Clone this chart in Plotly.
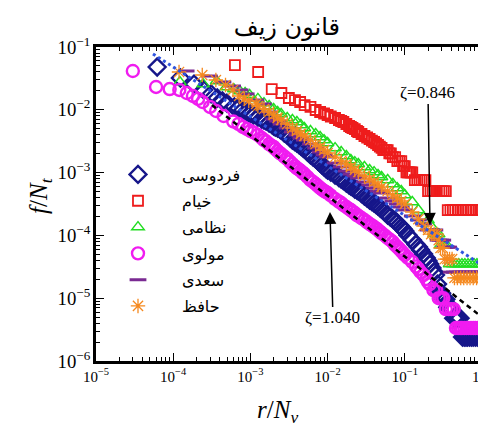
import math
import plotly.graph_objects as go

# ---------------- data ----------------
# x = r/N_v , y = f/N_t
ferdowsi_x = [6.2e-5, 1.24e-4, 1.86e-4, 2.48e-4, 3.1e-4, 3.72e-4, 4.34e-4, 4.96e-4, 6.2e-4,
              7e-4, 8e-4, 9e-4,
              1e-3, 1.1e-3, 1.25e-3, 1.4e-3, 1.5e-3, 1.6e-3, 1.75e-3, 1.9e-3, 2e-3, 2.1e-3,
              2.25e-3, 2.4e-3, 2.5e-3, 2.75e-3, 3e-3, 3.25e-3, 3.5e-3, 3.75e-3, 4e-3, 4.25e-3,
              4.5e-3, 4.75e-3, 5e-3, 5.5e-3, 6e-3, 6.5e-3, 7e-3, 7.5e-3, 8e-3, 8.5e-3, 9e-3, 9.5e-3,
              1e-2, 1.1e-2, 1.25e-2, 1.4e-2, 1.5e-2, 1.6e-2, 1.75e-2, 1.9e-2, 2e-2, 2.1e-2,
              2.25e-2, 2.4e-2, 2.5e-2, 2.75e-2, 3e-2, 3.25e-2, 3.5e-2, 3.75e-2, 4e-2, 4.25e-2,
              4.5e-2, 4.75e-2, 5e-2, 5.5e-2, 6e-2, 6.5e-2, 7e-2, 7.5e-2, 8e-2, 8.5e-2, 9e-2, 9.5e-2,
              0.1, 0.11, 0.125, 0.14, 0.15, 0.16, 0.175, 0.19, 0.2, 0.21, 0.225, 0.24, 0.25,
              0.265, 0.28, 0.30, 0.32, 0.34, 0.36, 0.39, 0.43, 0.46, 0.49, 0.52,
              0.56, 0.59, 0.62, 0.65, 0.69, 0.73, 0.77, 0.82, 0.87, 0.93, 1.0]
ferdowsi_y = [0.0480, 0.0321, 0.0257, 0.0207, 0.0179, 0.0154, 0.0138, 0.0128, 0.0111,
              0.0107, 9.93e-3, 9.22e-3,
              8.57e-3, 8.26e-3, 7.68e-3, 7.14e-3, 6.88e-3, 6.63e-3, 6.16e-3, 5.83e-3, 5.52e-3,
              5.32e-3, 5.13e-3, 4.94e-3, 4.77e-3, 4.27e-3, 3.97e-3, 3.62e-3, 3.30e-3, 3.13e-3,
              2.96e-3, 2.80e-3, 2.65e-3, 2.51e-3, 2.38e-3, 2.13e-3, 1.91e-3, 1.77e-3, 1.65e-3,
              1.53e-3, 1.42e-3, 1.32e-3, 1.23e-3, 1.16e-3,
              1.10e-3, 1.02e-3, 9.16e-4, 8.35e-4, 7.91e-4, 7.48e-4, 6.83e-4, 6.35e-4, 6.12e-4,
              5.90e-4, 5.48e-4, 5.28e-4, 5.09e-4, 4.65e-4, 4.24e-4, 3.94e-4, 3.66e-4, 3.46e-4,
              3.28e-4, 3.10e-4, 2.94e-4, 2.78e-4, 2.63e-4, 2.36e-4, 2.11e-4, 1.96e-4, 1.82e-4,
              1.70e-4, 1.58e-4, 1.46e-4, 1.36e-4, 1.26e-4,
              1.17e-4, 1.01e-4, 8.45e-5, 7.16e-5, 6.53e-5, 5.85e-5, 5.06e-5, 4.37e-5, 3.91e-5,
              3.50e-5, 3.03e-5, 2.61e-5, 2.34e-5,
              1.68e-5, 1.2e-5, 1.2e-5, 9.6e-6, 9.6e-6, 7.2e-6, 7.2e-6, 4.8e-6, 4.8e-6, 4.8e-6, 4.8e-6,
              2.4e-6, 2.4e-6, 2.4e-6, 2.4e-6, 2.4e-6, 2.4e-6, 2.4e-6, 2.4e-6, 2.4e-6, 2.4e-6, 2.4e-6]

khayyam_x = [6.3e-4, 1.26e-3, 1.89e-3, 2.52e-3, 3.15e-3, 3.78e-3, 4.41e-3, 5.04e-3,
             6e-3, 7e-3, 8e-3, 9e-3,
             1e-2, 1.1e-2, 1.25e-2, 1.4e-2, 1.5e-2, 1.6e-2, 1.75e-2, 1.9e-2, 2e-2, 2.1e-2,
             2.25e-2, 2.4e-2, 2.5e-2, 2.75e-2, 3e-2, 3.25e-2, 3.5e-2, 3.75e-2, 4e-2, 4.25e-2,
             4.5e-2, 4.75e-2, 5e-2,
             5.25e-2, 5.5e-2, 5.75e-2, 6e-2, 6.3e-2, 6.6e-2, 7e-2, 7.5e-2, 8e-2, 8.5e-2, 9e-2,
             0.095, 0.1, 0.105, 0.11, 0.115, 0.12, 0.125,
             0.135, 0.145, 0.155, 0.165, 0.175, 0.185,
             0.2, 0.215, 0.23, 0.245, 0.26, 0.28, 0.3, 0.32, 0.34,
             0.36, 0.39, 0.42, 0.45, 0.49, 0.53, 0.57, 0.62, 0.67, 0.72, 0.78, 0.84, 0.9, 0.95, 1.0]
khayyam_y = [0.0516, 0.0400, 0.0214, 0.0185, 0.0154, 0.0143, 0.0133, 0.0119,
             0.0111, 9.93e-3, 9.22e-3, 8.73e-3,
             8.26e-3, 7.82e-3, 7.40e-3, 6.88e-3, 6.63e-3, 6.39e-3, 5.94e-3, 5.52e-3, 5.32e-3,
             5.13e-3, 4.94e-3, 4.60e-3, 4.43e-3, 4.12e-3, 3.83e-3, 3.62e-3, 3.43e-3, 3.24e-3,
             3.07e-3, 2.91e-3, 2.75e-3, 2.60e-3, 2.47e-3,
             2.28e-3, 2.28e-3, 2.28e-3, 2.28e-3, 2.03e-3, 2.03e-3, 1.77e-3, 1.77e-3, 1.52e-3,
             1.52e-3, 1.52e-3,
             1.27e-3, 1.27e-3, 1.01e-3, 1.01e-3, 1.01e-3, 1.01e-3, 1.01e-3,
             7.6e-4, 7.6e-4, 7.6e-4, 7.6e-4, 7.6e-4, 7.6e-4,
             5.06e-4, 5.06e-4, 5.06e-4, 5.06e-4, 5.06e-4, 5.06e-4, 5.06e-4, 5.06e-4, 5.06e-4,
             2.53e-4, 2.53e-4, 2.53e-4, 2.53e-4, 2.53e-4, 2.53e-4, 2.53e-4, 2.53e-4, 2.53e-4,
             2.53e-4, 2.53e-4, 2.53e-4, 2.53e-4, 2.53e-4, 2.53e-4]

nezami_x = [1.22e-4, 2.44e-4, 3.66e-4, 4.88e-4, 6.1e-4, 7.32e-4, 8.54e-4, 9.76e-4,
            1.25e-3, 1.5e-3, 1.75e-3, 2e-3, 2.25e-3, 2.5e-3, 3e-3, 3.5e-3, 4e-3, 4.5e-3,
            5e-3, 6e-3, 7e-3, 8e-3, 9e-3,
            1e-2, 1.25e-2, 1.5e-2, 1.75e-2, 2e-2, 2.25e-2, 2.5e-2, 3e-2, 3.5e-2, 4e-2, 4.5e-2,
            5e-2, 6e-2, 7e-2, 8e-2, 9e-2,
            0.1, 0.125, 0.15, 0.175, 0.2, 0.22, 0.24, 0.26, 0.275, 0.29, 0.31, 0.33, 0.35,
            0.38, 0.42, 0.46, 0.5, 0.55, 0.6, 0.66, 0.72, 0.79, 0.86, 0.93, 1.0]
nezami_y = [0.0277, 0.0257, 0.0287, 0.0231, 0.0214, 0.0199, 0.0185, 0.0172,
            0.0149, 0.0128, 0.0115, 0.0103, 9.22e-3, 8.57e-3, 7.40e-3, 6.88e-3, 6.39e-3, 5.73e-3,
            5.13e-3, 4.60e-3, 4.12e-3, 3.69e-3, 3.30e-3,
            2.96e-3, 2.46e-3, 2.13e-3, 1.84e-3, 1.59e-3, 1.47e-3, 1.37e-3, 1.23e-3, 1.10e-3,
            1.02e-3, 9.16e-4,
            8.51e-4, 7.62e-4, 6.58e-4, 5.68e-4, 5.09e-4,
            4.40e-4, 3.40e-4, 2.54e-4, 1.96e-4, 1.75e-4, 1.4e-4, 1.05e-4, 1.05e-4, 1.05e-4,
            7.0e-5, 7.0e-5, 7.0e-5, 7.0e-5,
            3.5e-5, 3.5e-5, 3.5e-5, 3.5e-5, 3.5e-5, 3.5e-5, 3.5e-5, 3.5e-5, 3.5e-5, 3.5e-5,
            3.5e-5, 3.5e-5]

molavi_x = [3.0e-5, 6.0e-5, 9.0e-5, 1.2e-4, 1.5e-4, 1.8e-4, 2.1e-4, 2.4e-4, 3.0e-4, 3.6e-4, 4.5e-4,
            6e-4, 7e-4, 8e-4, 9e-4,
            1e-3, 1.1e-3, 1.25e-3, 1.4e-3, 1.5e-3, 1.6e-3, 1.75e-3, 1.9e-3, 2e-3, 2.1e-3,
            2.25e-3, 2.4e-3, 2.5e-3, 2.75e-3, 3e-3, 3.25e-3, 3.5e-3, 3.75e-3, 4e-3, 4.25e-3,
            4.5e-3, 4.75e-3, 5e-3, 5.5e-3, 6e-3, 6.5e-3, 7e-3, 7.5e-3, 8e-3, 8.5e-3, 9e-3, 9.5e-3,
            1e-2, 1.1e-2, 1.25e-2, 1.4e-2, 1.5e-2, 1.6e-2, 1.75e-2, 1.9e-2, 2e-2, 2.1e-2,
            2.25e-2, 2.4e-2, 2.5e-2, 2.75e-2, 3e-2, 3.25e-2, 3.5e-2, 3.75e-2, 4e-2, 4.25e-2,
            4.5e-2, 4.75e-2, 5e-2, 5.5e-2, 6e-2, 6.5e-2, 7e-2, 7.5e-2, 8e-2, 8.5e-2, 9e-2, 9.5e-2,
            0.1, 0.11, 0.125, 0.14, 0.15, 0.16, 0.175, 0.19, 0.2,
            0.21, 0.235, 0.255, 0.275, 0.295, 0.315, 0.34, 0.37, 0.40, 0.43,
            0.46, 0.49, 0.52, 0.55, 0.59, 0.63, 0.67, 0.72, 0.77, 0.82, 0.88, 0.94, 1.0]
molavi_y = [0.0415, 0.0231, 0.0214, 0.0207, 0.0185, 0.0166, 0.0149, 0.0133, 0.0111, 0.00957, 0.00796,
            6.52e-3, 5.94e-3, 5.32e-3, 4.94e-3,
            4.60e-3, 4.35e-3, 3.97e-3, 3.56e-3, 3.30e-3, 3.13e-3, 2.85e-3, 2.65e-3, 2.56e-3,
            2.38e-3, 2.21e-3, 2.05e-3, 1.98e-3, 1.80e-3, 1.65e-3, 1.50e-3, 1.37e-3, 1.27e-3,
            1.18e-3, 1.12e-3, 1.06e-3, 1.00e-3, 9.5e-4, 8.51e-4, 7.62e-4, 7.09e-4, 6.58e-4,
            6.12e-4, 5.68e-4, 5.38e-4, 5.09e-4, 4.91e-4,
            4.73e-4, 4.32e-4, 3.80e-4, 3.46e-4, 3.28e-4, 3.05e-4, 2.83e-4, 2.63e-4, 2.54e-4,
            2.40e-4, 2.27e-4, 2.11e-4, 2.04e-4, 1.89e-4, 1.76e-4, 1.63e-4, 1.52e-4, 1.44e-4,
            1.36e-4, 1.29e-4, 1.22e-4, 1.15e-4, 1.09e-4, 9.96e-5, 9.09e-5, 8.45e-5, 7.85e-5,
            7.03e-5, 6.53e-5, 6.07e-5, 5.64e-5, 5.24e-5,
            4.88e-5, 4.37e-5, 3.77e-5, 3.20e-5, 2.92e-5, 2.61e-5, 2.34e-5, 2.02e-5, 1.81e-5,
            1.68e-5, 1.34e-5, 1.34e-5, 1.0e-5, 1.0e-5, 1.0e-5, 6.7e-6, 6.7e-6, 6.7e-6, 6.7e-6,
            3.35e-6, 3.35e-6, 3.35e-6, 3.35e-6, 3.35e-6, 3.35e-6, 3.35e-6, 3.35e-6, 3.35e-6,
            3.35e-6, 3.35e-6, 3.35e-6, 3.35e-6]

saadi_x = [1.47e-4, 2.94e-4, 4.41e-4, 5.88e-4, 7.35e-4, 8.82e-4, 1.18e-3, 1.47e-3,
           1.75e-3, 2e-3, 2.25e-3, 2.5e-3, 3e-3, 3.5e-3, 4e-3, 4.5e-3, 5e-3, 6e-3, 7e-3, 8e-3,
           9e-3, 1e-2, 1.25e-2, 1.5e-2, 1.75e-2, 2e-2, 2.25e-2, 2.5e-2, 3e-2, 3.5e-2, 4e-2,
           4.5e-2, 5e-2, 6e-2, 7e-2, 8e-2, 9e-2, 0.1, 0.125, 0.15, 0.175,
           0.2, 0.22, 0.245, 0.27, 0.29, 0.31, 0.33, 0.35, 0.37,
           0.40, 0.44, 0.48, 0.53, 0.58, 0.64, 0.7, 0.77, 0.85, 0.92, 1.0]
saadi_y = [0.0415, 0.0345, 0.0277, 0.0239, 0.0207, 0.0179, 0.0143, 0.0124,
           9.22e-3, 7.14e-3, 6.63e-3, 5.94e-3, 5.13e-3, 4.43e-3, 3.97e-3, 3.56e-3, 3.30e-3,
           2.85e-3, 2.46e-3, 2.13e-3,
           1.91e-3, 1.77e-3, 1.42e-3, 1.23e-3, 1.06e-3, 9.5e-4, 8.83e-4, 8.2e-4, 7.09e-4,
           6.35e-4, 5.68e-4,
           5.09e-4, 4.73e-4, 3.94e-4, 3.53e-4, 3.16e-4, 2.83e-4, 2.54e-4, 2.04e-4, 1.76e-4,
           1.52e-4,
           1.22e-4, 1.22e-4, 1.22e-4, 8.4e-5, 8.4e-5, 8.4e-5, 6.5e-5, 6.5e-5, 6.5e-5,
           2.6e-5, 2.6e-5, 2.6e-5, 2.6e-5, 2.6e-5, 2.6e-5, 2.6e-5, 2.6e-5, 2.6e-5, 2.6e-5, 2.6e-5]

hafez_x = [1.19e-4, 2.38e-4, 3.57e-4, 4.76e-4, 5.95e-4, 7.14e-4, 8.33e-4, 9.52e-4, 1.19e-3,
           1.25e-3, 1.5e-3, 1.75e-3, 2e-3, 2.25e-3, 2.5e-3, 3e-3, 3.5e-3, 4e-3, 4.5e-3,
           5e-3, 6e-3, 7e-3, 8e-3, 9e-3,
           1e-2, 1.25e-2, 1.5e-2, 1.75e-2, 2e-2, 2.25e-2, 2.5e-2, 3e-2, 3.5e-2, 4e-2,
           4.5e-2, 5e-2, 6e-2, 7e-2, 8e-2, 9e-2, 0.1, 0.125, 0.15, 0.175, 0.2,
           0.22, 0.24, 0.26, 0.275, 0.29, 0.31, 0.33, 0.355, 0.38, 0.41,
           0.44, 0.48, 0.53, 0.58, 0.64, 0.7, 0.77, 0.85, 0.92, 1.0]
hafez_y = [0.0400, 0.0358, 0.0298, 0.0248, 0.0207, 0.0166, 0.0149, 0.0138, 0.0124,
           0.0115, 0.0103, 9.22e-3, 8.26e-3, 7.40e-3, 6.88e-3, 5.94e-3, 5.13e-3, 4.60e-3,
           4.12e-3, 3.83e-3, 3.30e-3, 2.85e-3, 2.56e-3, 2.29e-3,
           2.05e-3, 1.77e-3, 1.53e-3, 1.37e-3, 1.23e-3, 1.10e-3, 1.02e-3, 8.83e-4, 7.91e-4,
           7.09e-4, 6.35e-4, 5.90e-4, 5.09e-4, 4.40e-4, 3.94e-4, 3.53e-4, 3.16e-4, 2.36e-4,
           1.82e-4, 1.41e-4, 1.22e-4,
           1.05e-4, 1.05e-4, 1.05e-4, 8.4e-5, 6.3e-5, 6.3e-5, 4.2e-5, 4.2e-5, 4.2e-5, 4.2e-5,
           2.1e-5, 2.1e-5, 2.1e-5, 2.1e-5, 2.1e-5, 2.1e-5, 2.1e-5, 2.1e-5, 2.1e-5, 2.1e-5]

# fitted power laws (end points)
fit0846_x = [5.47e-5, 1.0]
fit0846_y = [0.0774, 3.38e-5]
fit1040_x = [3.18e-4, 0.887]
fit1040_y = [0.0119, 5.6e-6]

# annotation arrow tips
zeta0846_tip = (0.212, 1.47e-4)
zeta1040_tip = (0.01074, 2.36e-4)

names = ["فردوسی", "خیام", "نظامی", "مولوی", "سعدی", "حافظ"]

# x tick labels (the last one sits on the clipped right edge)
x_tickvals = [1e-5, 1e-4, 1e-3, 1e-2, 1e-1]
x_ticktext = ["10<sup>−5</sup>", "10<sup>−4</sup>", "10<sup>−3</sup>", "10<sup>−2</sup>",
              "10<sup>−1</sup>"]
x_last_tick = (1.0, "10<sup>0</sup>")

# ---------------- figure ----------------
# (x, y, name, symbol, colour, size, line width)
series = [
    (ferdowsi_x, ferdowsi_y, names[0], "diamond-open", "#16168a", 13, 2.4),
    (khayyam_x, khayyam_y, names[1], "square-open", "#ee1c1c", 10, 1.8),
    (nezami_x, nezami_y, names[2], "triangle-up-open", "#22dd22", 11, 1.4),
    (molavi_x, molavi_y, names[3], "circle-open", "#f01cf0", 12, 2.4),
    (saadi_x, saadi_y, names[4], "line-ew-open", "#7a2a92", 12, 3),
    (hafez_x, hafez_y, names[5], "asterisk-open", "#f5891f", 12, 1.3),
]

fig = go.Figure()
for i, (xs, ys, nm, sym, col, sz, lw) in enumerate(series):
    fig.add_trace(go.Scatter(
        x=xs, y=ys, mode="markers", name=nm, legendgroup=str(i),
        marker=dict(symbol=sym, size=sz, color=col, line=dict(color=col, width=lw)),
    ))

fig.add_trace(go.Scatter(x=fit0846_x, y=fit0846_y, mode="lines", showlegend=False,
                         line=dict(color="#2f55e0", width=3, dash="dot")))
fig.add_trace(go.Scatter(x=fit1040_x, y=fit1040_y, mode="lines", showlegend=False,
                         line=dict(color="black", width=2.5, dash="5px,4px")))

serif = "Liberation Serif, Times New Roman, serif"
axis_common = dict(
    type="log", automargin=False, showline=True, linewidth=2.5, linecolor="black",
    mirror="allticks", ticks="inside", ticklen=8, tickwidth=1, tickcolor="black",
    showgrid=False, zeroline=False,
    ticklabeloverflow="allow",
    tickfont=dict(family=serif, size=15, color="black"),
    minor=dict(ticks="inside", ticklen=4, tickwidth=1, tickcolor="black", dtick="D1",
               showgrid=False),
)

fig.update_layout(
    width=486, height=427,
    margin=dict(l=88, r=12, t=39, b=74),
    paper_bgcolor="white", plot_bgcolor="white",
    title=dict(text="قانون زیف", x=0.574, xanchor="center", y=0.956, yanchor="middle",
               font=dict(family="DejaVu Sans", size=24, color="black")),
    xaxis=dict(range=[-5, 0], tickmode="array", tickvals=x_tickvals, ticktext=x_ticktext,
               **axis_common),
    yaxis=dict(range=[-6, -1], dtick=1, exponentformat="power", **axis_common),
    legend=dict(x=-0.0052, y=0.648, xanchor="left", yanchor="top",
                bgcolor="rgba(0,0,0,0)", borderwidth=0, tracegroupgap=2.5,
                font=dict(family="DejaVu Sans", size=16, color="black"),
                itemwidth=78),
    showlegend=True,
)

# label of the last x tick, on the clipped right edge
fig.add_annotation(xref="x", yref="paper", x=math.log10(x_last_tick[0]), y=-0.0115,
                   text=x_last_tick[1], showarrow=False, xanchor="center", yanchor="top",
                   font=dict(family=serif, size=15, color="black"))
fig.add_shape(type="line", xref="x", yref="paper", x0=0, x1=0, y0=0, y1=8 / 314,
              line=dict(color="black", width=1))

# axis titles
fig.add_annotation(xref="paper", yref="paper", x=0.469, y=-0.162,
                   text="<i>r</i>/<i>N</i><sub><i>v</i></sub>", showarrow=False,
                   xanchor="center", yanchor="middle",
                   font=dict(family=serif, size=25, color="black"))
fig.add_annotation(xref="paper", yref="paper", x=-0.1425, y=0.529, textangle=-90,
                   text="<i>f</i>/<i>N</i><sub><i>t</i></sub>", showarrow=False,
                   xanchor="center", yanchor="middle",
                   font=dict(family=serif, size=25, color="black"))

fig.add_annotation(x=math.log10(zeta0846_tip[0]), y=math.log10(zeta0846_tip[1]),
                   xref="x", yref="y", text="ζ=0.846", showarrow=True,
                   ax=-2, ay=-132, arrowhead=2, arrowsize=1.6, arrowwidth=1.5,
                   arrowcolor="black", font=dict(family=serif, size=17, color="black"))
fig.add_annotation(x=math.log10(zeta1040_tip[0]), y=math.log10(zeta1040_tip[1]),
                   xref="x", yref="y", text="ζ=1.040", showarrow=True,
                   ax=3, ay=106, arrowhead=2, arrowsize=1.6, arrowwidth=1.5,
                   arrowcolor="black", font=dict(family=serif, size=17, color="black"))

fig.write_html("out.html")
